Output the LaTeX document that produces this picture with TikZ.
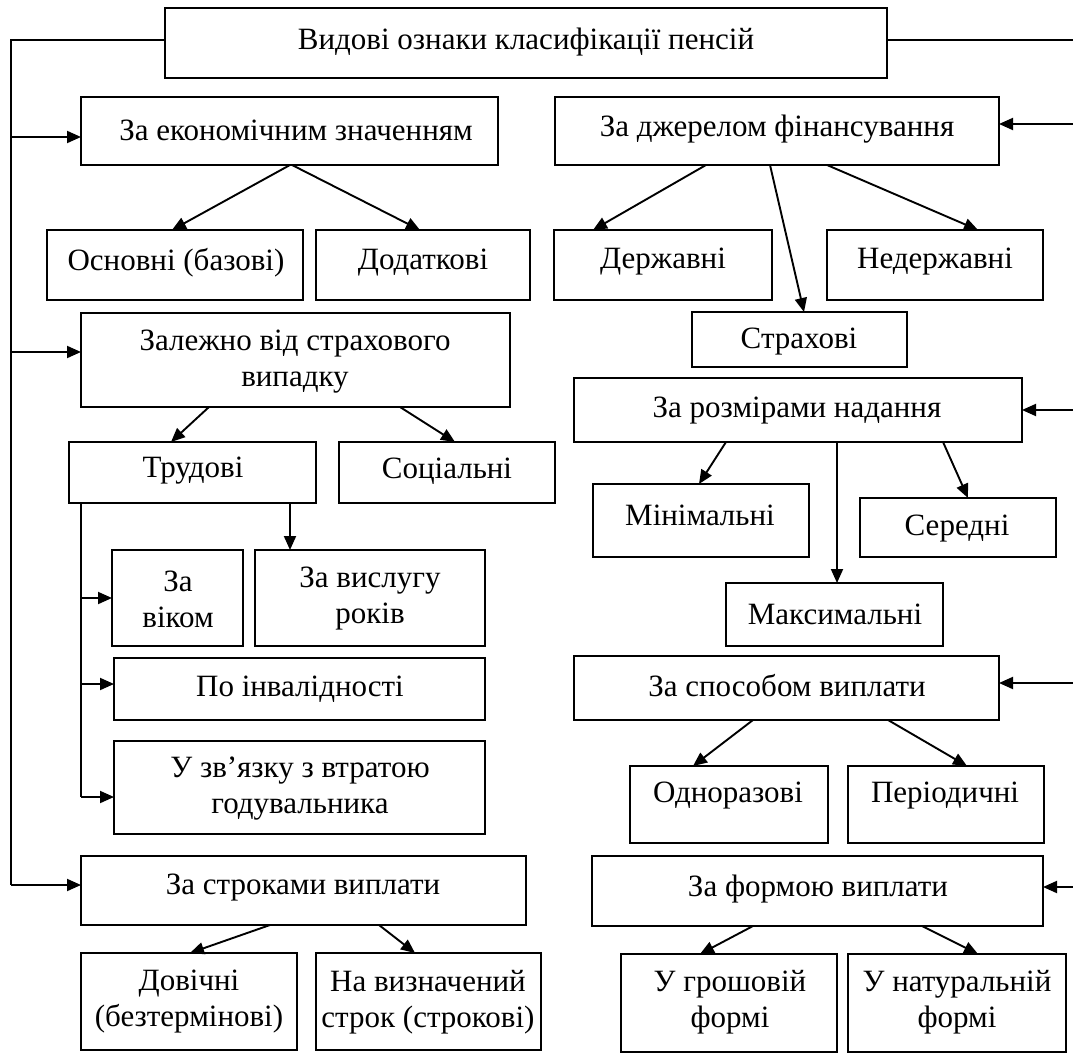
\documentclass[tikz,border=0pt]{standalone}
\usepackage{fontspec}
\setmainfont{Liberation Serif}
\usetikzlibrary{arrows.meta}
\tikzset{
  box/.style={draw, line width=2pt, inner sep=0pt, outer sep=0pt, rectangle},
  txt/.style={inner sep=0pt, align=center, font=\fontsize{31}{36}\selectfont},
  ln/.style={line width=1.9pt},
  arr/.style={line width=1.9pt, -{Triangle[length=14pt,width=12pt]}}
}
\newcommand{\mkbox}[5]{%
  \node[box, minimum width={(#4)-(#2)}, minimum height={(#5)-(#3)}] (#1) at ({((#2)+(#4))/2},{((#3)+(#5))/2}) {};}
\begin{document}
\begin{tikzpicture}[x=1pt,y=-1pt]
\useasboundingbox (0,0) rectangle (1073,1059);
% boxes
\mkbox{top}{165}{8}{887}{78}
\mkbox{ekon}{81}{97}{498}{165}
\mkbox{djer}{555}{97}{999}{165}
\mkbox{osn}{47}{230}{303}{300}
\mkbox{dod}{316}{230}{530}{300}
\mkbox{derzh}{554}{230}{772}{300}
\mkbox{nederzh}{827}{230}{1043}{300}
\mkbox{strakh}{692}{312}{907}{367}
\mkbox{zal}{81}{313}{510}{407}
\mkbox{rozm}{574}{378}{1022}{442}
\mkbox{trud}{69}{442}{316}{503}
\mkbox{soc}{339}{442}{555}{503}
\mkbox{vik}{112}{550}{243}{646}
\mkbox{vysl}{255}{550}{485}{646}
\mkbox{inv}{114}{658}{485}{720}
\mkbox{zv}{114}{741}{485}{834}
\mkbox{min}{593}{484}{809}{557}
\mkbox{ser}{860}{498}{1056}{557}
\mkbox{max}{726}{583}{943}{646}
\mkbox{spos}{574}{656}{999}{720}
\mkbox{odn}{630}{766}{828}{843}
\mkbox{per}{848}{766}{1044}{843}
\mkbox{forma}{592}{856}{1043}{926}
\mkbox{grosh}{621}{954}{837}{1052}
\mkbox{nat}{848}{954}{1066}{1052}
\mkbox{stroki}{81}{856}{526}{925}
\mkbox{dov}{81}{953}{297}{1050}
\mkbox{vyzn}{316}{953}{541}{1050}
% texts
\node[txt] (topt) at (526,42) {Видові ознаки класифікації пенсій};
\node[txt] (ekont) at (296,130) {За економічним значенням};
\node[txt] (djert) at (777,129) {За джерелом фінансування};
\node[txt] (osnt) at (176,263) {Основні (базові)};
\node[txt] (dodt) at (423,263) {Додаткові};
\node[txt] (derzht) at (663,262) {Державні};
\node[txt] (nederzht) at (935,262) {Недержавні};
\node[txt] (strakht) at (799,342) {Страхові};
\node[txt] (zalt) at (295,362) {Залежно від страхового\\випадку};
\node[txt] (trudt) at (193,471) {Трудові};
\node[txt] (soct) at (447,471) {Соціальні};
\node[txt] (vikt) at (178,599) {За\\віком};
\node[txt] (vyslt) at (370,599) {За вислугу\\років};
\node[txt] (invt) at (300,689) {По інвалідності};
\node[txt] (zvt) at (300,789) {У зв’язку з втратою\\годувальника};
\node[txt] (rozmt) at (797,411) {За розмірами надання};
\node[txt] (mint) at (700,515) {Мінімальні};
\node[txt] (sert) at (957,529) {Середні};
\node[txt] (maxt) at (835,614) {Максимальні};
\node[txt] (spost) at (787,686) {За способом виплати};
\node[txt] (odnt) at (728,796) {Одноразові};
\node[txt] (pert) at (945,796) {Періодичні};
\node[txt] (format) at (818,889) {За формою виплати};
\node[txt] (grosht) at (730,1002) {У грошовій\\формі};
\node[txt] (natt) at (957,1002) {У натуральній\\формі};
\node[txt] (strokit) at (303,888) {За строками виплати};
\node[txt] (dovt) at (189,1002) {Довічні\\(безтермінові)};
\node[txt] (vyznt) at (428,1002) {На визначений\\строк (строкові)};
% left trunk
\coordinate (L0) at (11,40);
\coordinate (La) at (11,137);
\coordinate (Lb) at (11,352);
\coordinate (Lc) at (11,885);
\draw[ln] (L0 -| top.west) -- (L0) -- (Lc);
\draw[arr] (La) -- (La -| ekon.west);
\draw[arr] (Lb) -- (Lb -| zal.west);
\draw[arr] (Lc) -- (Lc -| stroki.west);
% right side
\coordinate (R0) at (1073,40);
\coordinate (Ra) at (1073,124);
\coordinate (Rb) at (1073,410);
\coordinate (Rc) at (1073,683);
\coordinate (Rd) at (1073,887);
\draw[ln] (R0 -| top.east) -- (R0);
\draw[arr] (Ra) -- (Ra -| djer.east);
\draw[arr] (Rb) -- (Rb -| rozm.east);
\draw[arr] (Rc) -- (Rc -| spos.east);
\draw[arr] (Rd) -- (Rd -| forma.east);
% tree arrows
\draw[arr] (ekon.south -| 290,0) -- (osn.north -| 172,0);
\draw[arr] (ekon.south -| 292,0) -- (dod.north -| 420,0);
\draw[arr] (djer.south -| 706,0) -- (derzh.north -| 593,0);
\draw[arr] (djer.south -| 770,0) -- (strakh.north -| 804,0);
\draw[arr] (djer.south -| 827,0) -- (nederzh.north -| 978,0);
\draw[arr] (zal.south -| 209,0) -- (trud.north -| 171,0);
\draw[arr] (zal.south -| 400,0) -- (soc.north -| 455,0);
\draw[arr] (trud.south -| 290,0) -- (vysl.north -| 290,0);
\coordinate (T0) at (trud.south -| 81,0);
\coordinate (T1) at (81,797);
\draw[ln] (T0) -- (T1);
\draw[arr] (T0 |- vik.west) -- (vik.west);
\draw[arr] (T0 |- 0,684) -- (inv.west |- 0,684);
\draw[arr] (T1) -- (T1 -| zv.west);
\draw[arr] (rozm.south -| 726,0) -- (min.north -| 699,0);
\draw[arr] (rozm.south -| 837,0) -- (max.north -| 837,0);
\draw[arr] (rozm.south -| 943,0) -- (ser.north -| 968,0);
\draw[arr] (spos.south -| 753,0) -- (odn.north -| 693,0);
\draw[arr] (spos.south -| 888,0) -- (per.north -| 967,0);
\draw[arr] (forma.south -| 753,0) -- (grosh.north -| 700,0);
\draw[arr] (forma.south -| 922,0) -- (nat.north -| 978,0);
\draw[arr] (stroki.south -| 270,0) -- (dov.north -| 190,0);
\draw[arr] (stroki.south -| 379,0) -- (vyzn.north -| 415,0);
\end{tikzpicture}
\end{document}
